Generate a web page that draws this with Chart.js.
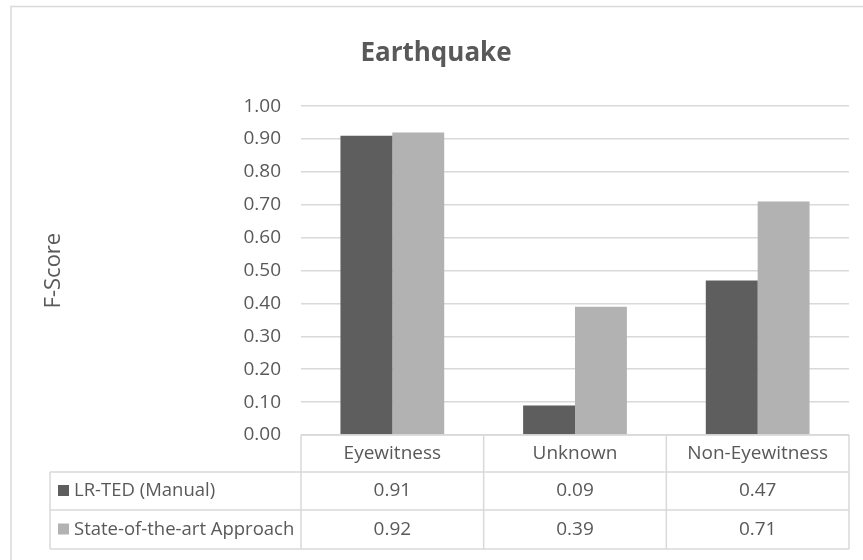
<!DOCTYPE html>
<html>
<head>
<meta charset="utf-8">
<script src="https://cdn.jsdelivr.net/npm/chart.js@4/dist/chart.umd.min.js"></script>
<style>
  html, body { margin: 0; padding: 0; background: #fff; }
  #wrap { width: 863px; height: 560px; }
</style>
</head>
<body>
<div id="wrap"><canvas id="myChart" width="863" height="560"></canvas></div>
<script>
// F-Score per class
const categories = ['Eyewitness', 'Unknown', 'Non-Eyewitness'];
const seriesNames = ['LR-TED (Manual)', 'State-of-the-art Approach'];
const lrTed = [0.91, 0.09, 0.47];
const stateOfArt = [0.92, 0.39, 0.71];
const seriesColors = ['#5e5e5e', '#b2b2b2'];

const textColor = '#595959';
const lineColor = '#d9d9d9';
const fontFamily = "'Open Sans', sans-serif";

// frame around the whole chart
const frame = {
    id: 'frame',
    beforeDraw(chart) {
        const c = chart.ctx;
        c.save();
        c.strokeStyle = lineColor;
        c.lineWidth = 1.5;
        c.strokeRect(11, 6.5, 900, 600);
        c.restore();
    }
};

// data table under the x axis, columns follow the category scale
const dataTable = {
    id: 'dataTable',
    afterDraw(chart) {
        const c = chart.ctx;
        const x = chart.scales.x;
        const area = chart.chartArea;
        const n = categories.length;
        const colW = (x.right - x.left) / n;
        const tableLeft = 50;
        const rows = [area.bottom, 472, 510, 549];

        c.save();
        c.strokeStyle = lineColor;
        c.lineWidth = 1.5;
        c.beginPath();
        // header row
        c.moveTo(x.left, rows[0]); c.lineTo(x.right, rows[0]);
        for (let r = 1; r < rows.length; r++) {
            c.moveTo(tableLeft, rows[r]); c.lineTo(x.right, rows[r]);
        }
        c.moveTo(tableLeft, rows[1]); c.lineTo(tableLeft, rows[3]);
        for (let i = 0; i <= n; i++) {
            const xx = x.left + i * colW;
            c.moveTo(xx, rows[0]); c.lineTo(xx, rows[3]);
        }
        c.stroke();

        c.fillStyle = textColor;
        c.font = '19px ' + fontFamily;
        c.textBaseline = 'middle';
        c.textAlign = 'center';
        categories.forEach((cat, i) => {
            const cx = x.getPixelForValue(i);
            c.fillText(cat, cx, (rows[0] + rows[1]) / 2);
        });

        const values = [lrTed, stateOfArt];
        values.forEach((vals, r) => {
            const cy = (rows[r + 1] + rows[r + 2]) / 2;
            c.font = '19px ' + fontFamily;
            c.textAlign = 'center';
            vals.forEach((v, i) => {
                c.fillText(v.toFixed(2), x.getPixelForValue(i), cy);
            });
            // legend key
            c.fillStyle = seriesColors[r];
            c.fillRect(58, cy - 6, 11, 11);
            c.fillStyle = textColor;
            c.textAlign = 'left';
            c.font = '18.5px ' + fontFamily;
            c.fillText(seriesNames[r], 74, cy);
        });
        c.restore();
    }
};

const ctx = document.getElementById('myChart');
new Chart(ctx.getContext('2d'), {
    type: 'bar',
    data: {
        labels: categories,
        datasets: [
            { label: seriesNames[0], data: lrTed, backgroundColor: seriesColors[0] },
            { label: seriesNames[1], data: stateOfArt, backgroundColor: seriesColors[1] }
        ]
    },
    options: {
        responsive: false,
        animation: false,
        layout: { padding: { left: 23, right: 14, top: 0, bottom: 117 } },
        datasets: { bar: { categoryPercentage: 0.568, barPercentage: 1 } },
        plugins: {
            legend: { display: false },
            tooltip: { enabled: false },
            title: {
                display: true,
                text: 'Earthquake',
                color: textColor,
                font: { family: fontFamily, size: 26, weight: 'bold' },
                padding: { top: 38, bottom: 37 }
            }
        },
        scales: {
            x: {
                ticks: { display: false },
                grid: { display: false },
                border: { display: false }
            },
            y: {
                min: 0,
                max: 1,
                afterFit(scale) { scale.width = 278; },
                ticks: {
                    stepSize: 0.1,
                    padding: 20,
                    color: textColor,
                    font: { family: fontFamily, size: 19 },
                    callback: v => v.toFixed(2)
                },
                grid: { color: lineColor, lineWidth: 1.5, drawTicks: false },
                border: { display: false },
                title: {
                    display: true,
                    text: 'F-Score',
                    color: textColor,
                    font: { family: fontFamily, size: 22 },
                    padding: { top: 18, bottom: 0 }
                }
            }
        }
    },
    plugins: [frame, dataTable]
});
</script>
</body>
</html>
